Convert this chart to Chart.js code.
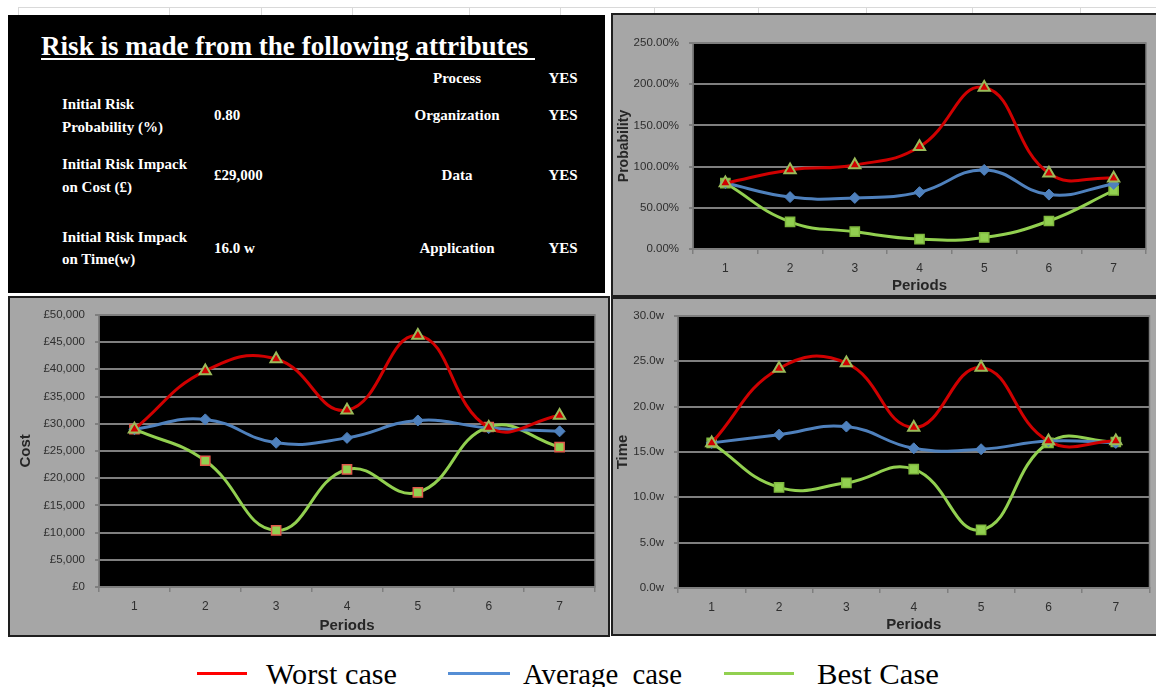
<!DOCTYPE html>
<html>
<head>
<meta charset="utf-8">
<script src="https://cdn.jsdelivr.net/npm/chart.js@4"></script>
<style>
  html, body { margin: 0; padding: 0; background: #fff; overflow: hidden; }
  body { width: 1156px; height: 687px; position: relative; font-family: "Liberation Serif", serif; }
  .panel { position: absolute; box-sizing: border-box; border: 2px solid #1e1e1e; background: #a6a6a6; }
  .panel canvas { display: block; }
  .info { position: absolute; left: 8px; top: 15px; width: 597px; height: 278px; background: #000; }
  .cell { position: absolute; color: #fff; font: bold 15px "Liberation Serif", serif; white-space: pre; transform: translateY(-50%); line-height: 23px; }
  .gridline { position: absolute; background: #d9d9d9; }
  .legend-line { position: absolute; height: 3px; }
  .legend-text { position: absolute; font: 30px "Liberation Serif", serif; color: #000; white-space: pre; transform: translateY(-50%); line-height: 32px; }
</style>
</head>
<body>
<div id="sheet"></div>
<div class="info" id="info"></div>
<div class="panel" style="left:611px;top:13px;width:549px;height:284px"><canvas id="probChart" width="545" height="280"></canvas></div>
<div class="panel" style="left:8px;top:296px;width:602px;height:341px"><canvas id="costChart" width="598" height="337"></canvas></div>
<div class="panel" style="left:611px;top:297px;width:549px;height:339px"><canvas id="timeChart" width="545" height="335"></canvas></div>
<div id="legend"></div>
<script>
// periods on the x axis
const periods = ["1", "2", "3", "4", "5", "6", "7"];

// probability (%)
const probWorst = [80, 96, 102, 124, 196, 92, 86];
const probAverage = [80, 63, 62, 69, 96, 66, 79];
const probBest = [80, 33, 21, 12, 14, 34, 71];

// cost (£)
const costWorst = [29000, 39700, 41900, 32500, 46200, 29300, 31500];
const costAverage = [29000, 30800, 26500, 27400, 30600, 29200, 28600];
const costBest = [29000, 23200, 10400, 21600, 17400, 29400, 25700];

// time (weeks)
const timeWorst = [16.0, 24.2, 24.8, 17.7, 24.3, 16.2, 16.2];
const timeAverage = [16.0, 16.9, 17.8, 15.4, 15.3, 16.2, 16.0];
const timeBest = [16.0, 11.1, 11.6, 13.1, 6.4, 16.0, 16.1];

const seriesNames = ["Worst case", "Average  case", "Best Case"];
const legendColors = ["#ff0000", "#558ed5", "#92d050"];

// attribute table
const attrLabels = [["Initial Risk", "Probability (%)"], ["Initial Risk Impack", "on Cost (\u00a3)"], ["Initial Risk Impack", "on Time(w)"]];
const attrValues = ["0.80", "\u00a329,000", "16.0 w"];
const attrNames = ["Process", "Organization", "Data", "Application"];
const attrFlags = ["YES", "YES", "YES", "YES"];

const COLOR_WORST = "#d00000";
const COLOR_AVG = "#4f81bd";
const COLOR_BEST = "#92d050";
const COLOR_GRID = "#7f7f7f";
const COLOR_TICK = "#2e2e2e";

// faint spreadsheet lines behind everything
let sheet = document.getElementById("sheet");
function addLine(x, y, w, h) {
    let d = document.createElement("div");
    d.className = "gridline";
    d.style.cssText = `left:${x}px;top:${y}px;width:${w}px;height:${h}px`;
    sheet.appendChild(d);
}
addLine(18, 7, 1138, 1);
[18, 169, 261, 352, 469, 560, 654, 758, 866, 972, 1080].forEach(x => addLine(x, 7, 1, 8));

// black info panel
let info = document.getElementById("info");
function addCell(text, x, y, align) {
    let d = document.createElement("div");
    d.className = "cell";
    d.textContent = text;
    d.style.top = (y - 15) + "px";
    d.style.left = (x - 8) + "px";
    if (align === "center") d.style.transform = "translate(-50%, -50%)";
    info.appendChild(d);
    return d;
}

let title = document.createElement("div");
title.className = "cell";
title.textContent = "Risk is made from the following attributes ";
title.style.cssText = "left:33px;top:31px;font-size:27px;line-height:32px;text-decoration:underline;text-decoration-thickness:2px;text-underline-offset:3px;transform-origin:0 50%;";
info.appendChild(title);
let titleScale = 494 / title.getBoundingClientRect().width;
title.style.transform = `translateY(-50%) scaleX(${titleScale})`;

const labelRows = [[104, 127], [164, 187], [237, 259]];
const valueRows = [115, 175, 248];
attrLabels.forEach((pair, i) => {
    addCell(pair[0], 62, labelRows[i][0]);
    addCell(pair[1], 62, labelRows[i][1]);
    addCell(attrValues[i], 214, valueRows[i]);
});
const nameRows = [78, 115, 175, 248];
attrNames.forEach((n, i) => {
    addCell(n, 457, nameRows[i], "center");
    addCell(attrFlags[i], 563, nameRows[i], "center");
});

// bottom legend
let legend = document.getElementById("legend");
const legendLines = [[197, 50], [448, 62], [724, 70]];
const legendTexts = [266, 523, 817];
const legendWidths = [131, 159, 122];
seriesNames.forEach((name, i) => {
    let l = document.createElement("div");
    l.className = "legend-line";
    l.style.cssText = `left:${legendLines[i][0]}px;top:672px;width:${legendLines[i][1]}px;background:${legendColors[i]}`;
    legend.appendChild(l);
    let t = document.createElement("div");
    t.className = "legend-text";
    t.textContent = name;
    t.style.left = legendTexts[i] + "px";
    t.style.top = "674px";
    t.style.transformOrigin = "0 50%";
    legend.appendChild(t);
    let k = legendWidths[i] / t.getBoundingClientRect().width;
    t.style.transform = `translateY(-50%) scaleX(${k})`;
});

// black plot area with grey frame
const plotBg = {
    id: "plotBg",
    beforeDraw(chart) {
        const { ctx, chartArea: a } = chart;
        ctx.save();
        ctx.fillStyle = "#000";
        ctx.fillRect(a.left, a.top, a.right - a.left, a.bottom - a.top);
        ctx.restore();
    },
    beforeDatasetsDraw(chart) {
        const { ctx, chartArea: a } = chart;
        ctx.save();
        ctx.strokeStyle = COLOR_GRID;
        ctx.lineWidth = 1.5;
        ctx.strokeRect(a.left, a.top, a.right - a.left, a.bottom - a.top);
        ctx.restore();
    }
};

function makeSeries(worst, avg, best, bestBorder) {
    return [
        { label: seriesNames[0], data: worst, borderColor: COLOR_WORST, backgroundColor: COLOR_WORST,
          pointStyle: "triangle", pointRadius: 6.5, pointBorderColor: "#9bbb59", pointBorderWidth: 2,
          pointBackgroundColor: COLOR_WORST, borderWidth: 3, tension: 0.45 },
        { label: seriesNames[1], data: avg, borderColor: COLOR_AVG, backgroundColor: COLOR_AVG,
          pointStyle: "rectRot", pointRadius: 5.5, pointBorderColor: COLOR_AVG, pointBorderWidth: 1,
          pointBackgroundColor: COLOR_AVG, borderWidth: 3, tension: 0.45 },
        { label: seriesNames[2], data: best, borderColor: COLOR_BEST, backgroundColor: COLOR_BEST,
          pointStyle: "rect", pointRadius: 6.5, pointBorderColor: bestBorder, pointBorderWidth: 1.5,
          pointBackgroundColor: COLOR_BEST, borderWidth: 3, tension: 0.45 }
    ];
}

function makeChart(id, datasets, cfg) {
    return new Chart(document.getElementById(id), {
        type: "line",
        data: { labels: periods, datasets: datasets },
        options: {
            responsive: false,
            animation: false,
            devicePixelRatio: 1,
            layout: { padding: cfg.padding },
            plugins: { legend: { display: false }, tooltip: { enabled: false } },
            scales: {
                x: {
                    offset: true,
                    grid: { display: true, drawOnChartArea: false, offset: true, color: COLOR_GRID, lineWidth: 1.5, tickLength: 5 },
                    border: { display: true, color: COLOR_GRID, width: 1.5 },
                    ticks: { color: COLOR_TICK, font: { family: "Liberation Sans", size: 12 }, padding: 7, maxRotation: 0 },
                    title: { display: true, text: "Periods", color: "#262626", font: { family: "Liberation Sans", size: 15, weight: "bold" }, padding: 0 },
                    afterFit: s => { s.height = cfg.xHeight; }
                },
                y: {
                    min: cfg.min, max: cfg.max,
                    grid: { color: COLOR_GRID, lineWidth: 2, tickLength: 4 },
                    border: { display: true, color: COLOR_GRID, width: 1.5 },
                    ticks: { stepSize: cfg.step, color: COLOR_TICK, font: { family: "Liberation Sans", size: 11.5 }, padding: 10, callback: cfg.fmt },
                    title: { display: true, text: cfg.yTitle, color: "#262626", font: { family: "Liberation Sans", size: cfg.yTitleSize, weight: "bold" }, padding: 0 },
                    afterFit: s => { s.width = cfg.yWidth; }
                }
            }
        },
        plugins: [plotBg]
    });
}

makeChart("probChart", makeSeries(probWorst, probAverage, probBest, "#7fb83e"), {
    padding: { left: 3, top: 28, right: 12, bottom: 0 },
    yWidth: 77, xHeight: 46, min: 0, max: 250, step: 50,
    yTitle: "Probability", yTitleSize: 14,
    fmt: v => v.toFixed(2) + "%"
});

makeChart("costChart", makeSeries(costWorst, costAverage, costBest, "#e05a4a"), {
    padding: { left: 7, top: 14, right: 13, bottom: 0 },
    yWidth: 82, xHeight: 48, min: 0, max: 50000, step: 5000,
    yTitle: "Cost", yTitleSize: 15,
    fmt: v => "\u00a3" + v.toLocaleString("en-GB")
});

makeChart("timeChart", makeSeries(timeWorst, timeAverage, timeBest, "#7fb83e"), {
    padding: { left: 1, top: 13, right: 8, bottom: 0 },
    yWidth: 64, xHeight: 46, min: 0, max: 30, step: 5,
    yTitle: "Time", yTitleSize: 15,
    fmt: v => v.toFixed(1) + "w"
});
</script>
</body>
</html>
